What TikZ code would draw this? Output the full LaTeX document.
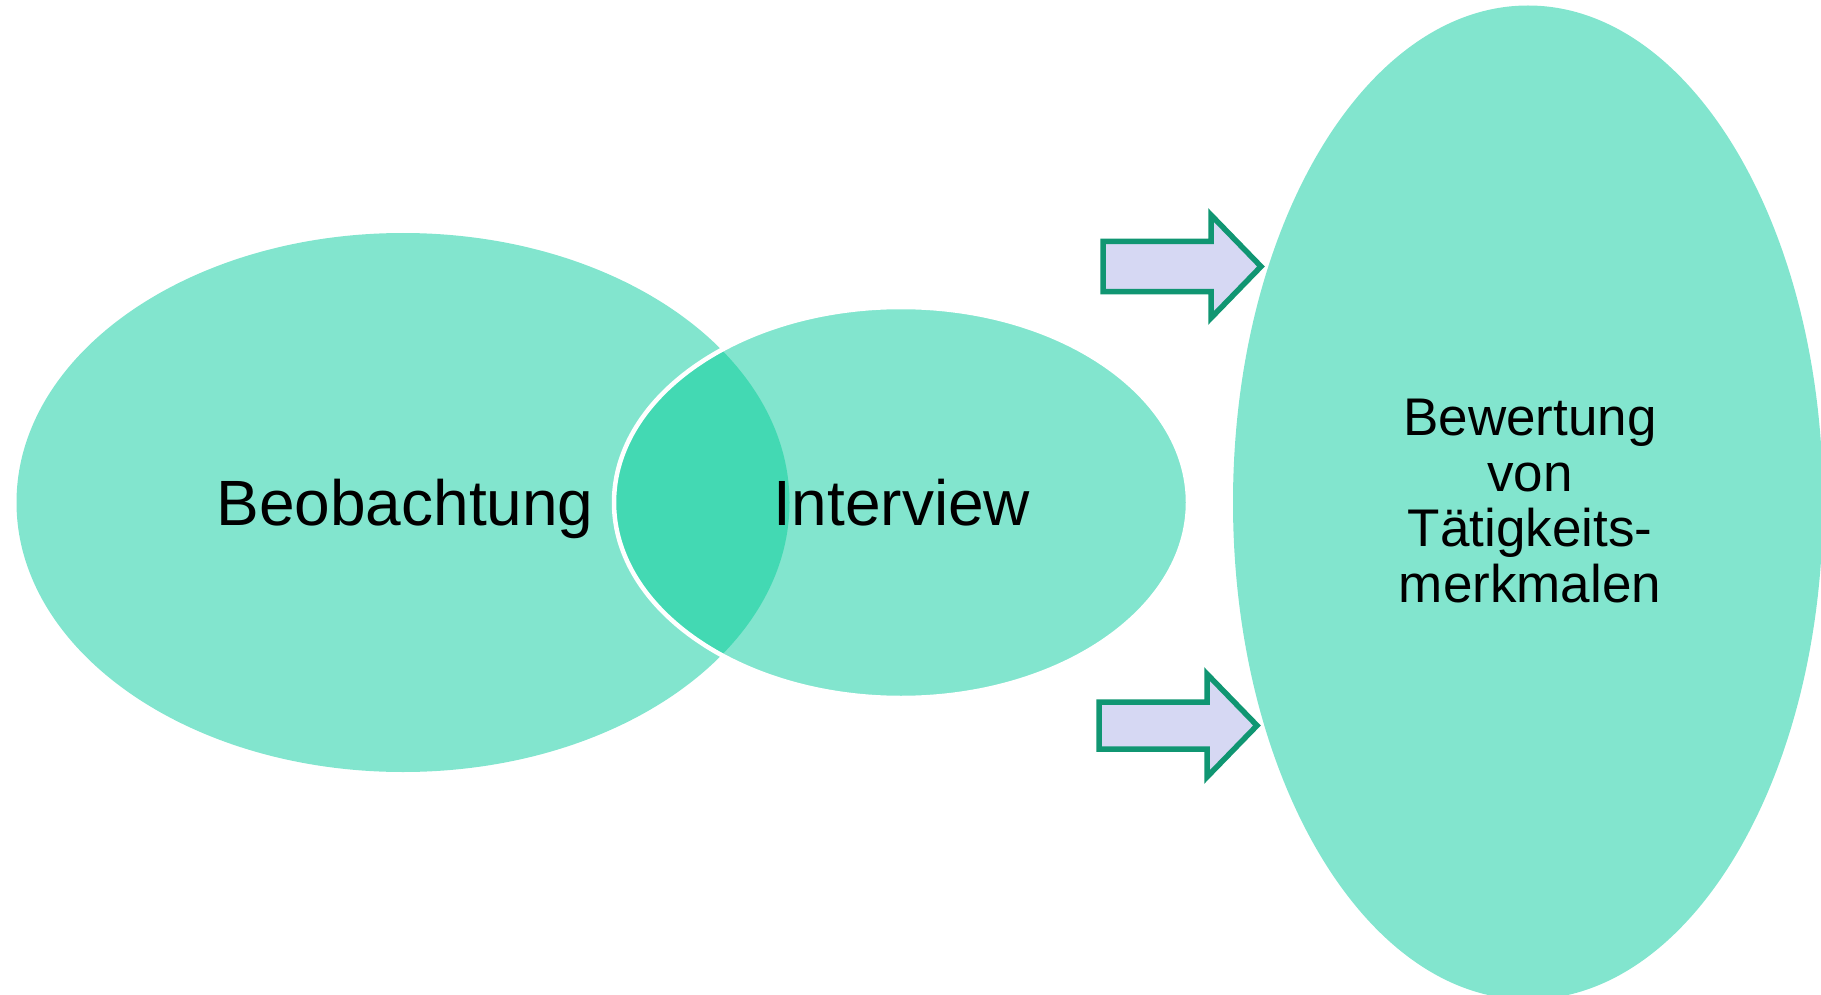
\documentclass[tikz,border=0pt]{standalone}
\usepackage{fontspec}
\setmainfont{Liberation Sans}
\definecolor{mint}{RGB}{130,229,206}
\definecolor{mintdark}{RGB}{67,217,179}
\definecolor{lav}{RGB}{214,216,243}
\definecolor{arrowgreen}{RGB}{16,150,114}
\tikzset{
  blockarrow/.style={draw=arrowgreen, fill=lav, line width=5.5pt, line join=miter},
  bigtext/.style={inner sep=0pt, anchor=base, font=\fontsize{64}{77}\selectfont},
  righttext/.style={inner sep=0pt, anchor=base, align=center, font=\fontsize{53}{55.5}\selectfont}
}
\begin{document}
\begin{tikzpicture}[x=1pt, y=-1pt]
\useasboundingbox (0,0) rectangle (1821,995);
\clip (0,0) rectangle (1821,995);
% left ellipse
\fill[mint] (403,502.5) ellipse [x radius=386.5, y radius=269.5];
% middle ellipse
\fill[mint] (901,502.5) ellipse [x radius=287, y radius=195.5];
\begin{scope}
  \clip (403,502.5) ellipse [x radius=386.5, y radius=269.5];
  \fill[mintdark] (901,502.5) ellipse [x radius=287, y radius=195.5];
\end{scope}
\draw[white, line width=4.5pt] (901,502.5) ellipse [x radius=287, y radius=195.5];
% right ellipse
\fill[mint] (1528,502.5) ellipse [x radius=295, y radius=497];
% arrows
\draw[blockarrow] (1103,241.5) -- (1211,241.5) -- (1211,215) -- (1261,266.5) -- (1211,318) -- (1211,291.5) -- (1103,291.5) -- cycle;
\draw[blockarrow] (1099,702) -- (1207,702) -- (1207,674) -- (1257,725.5) -- (1207,777) -- (1207,749) -- (1099,749) -- cycle;
% texts
\node[bigtext] (beo) at (405,525) {Beobachtung};
\node[bigtext] (int) at (902,525) {Interview};
\node[righttext] (bew) at (1530,602) {Bewertung\\von\\Tätigkeits-\\merkmalen};
\end{tikzpicture}
\end{document}
